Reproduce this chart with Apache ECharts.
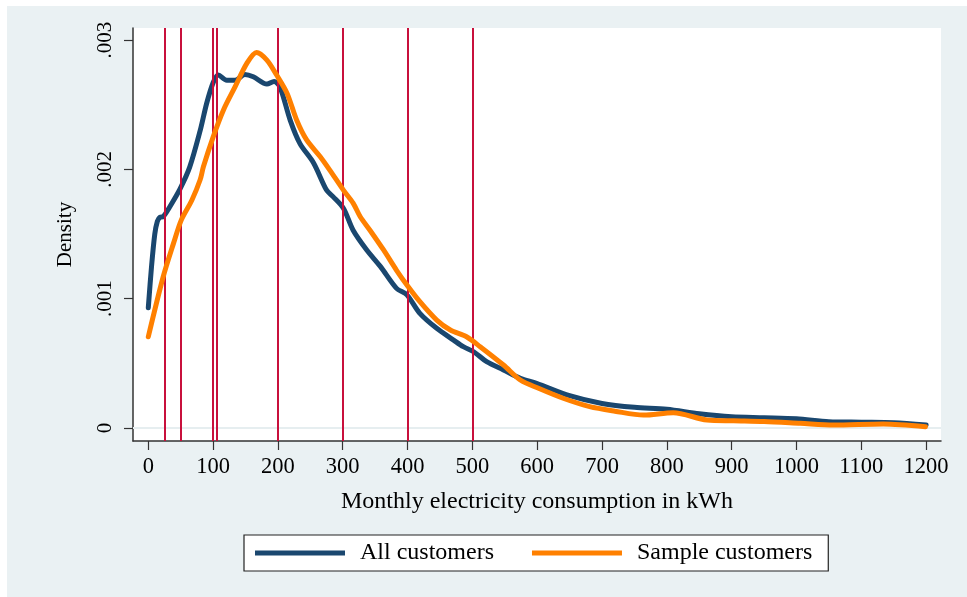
<!DOCTYPE html>
<html>
<head>
<meta charset="utf-8">
<script src="https://cdn.jsdelivr.net/npm/echarts@6/dist/echarts.min.js"></script>
<style>
html,body{margin:0;padding:0;background:#ffffff;}
#bg{position:absolute;left:7px;top:6px;width:960px;height:591px;background:#eaf1f3;}
#chart{position:absolute;left:0;top:0;width:967px;height:597px;}
</style>
</head>
<body>
<div id="bg"></div>
<div id="chart"></div>
<script>
// Data (kWh, density)
const allX = [0,5,10,14,18,23,33,49,64,80,90,100,108,121,134,149,162,183,194,203,219,234,255,275,285,301,316,337,358,383,399,419,445,471,486,502,522,548,574,599,650,700,750,800,850,900,950,1000,1050,1100,1150,1200];
const allY = [0.00093,0.00125,0.00150,0.00160,0.00163,0.001635,0.00171,0.00185,0.00202,0.00230,0.00251,0.00267,0.00273,0.00269,0.00269,0.002735,0.002717,0.00266,0.00268,0.00264,0.00238,0.00220,0.00205,0.00184,0.00179,0.00170,0.00153,0.001377,0.00125,0.00108,0.00103,0.000887,0.000771,0.00068,0.000629,0.00059,0.000513,0.000449,0.000384,0.000346,0.00025,0.00019,0.00016,0.000145,0.00011,0.000087,0.00008,0.000072,0.000049,0.000045,0.000041,0.000023];
const sampleX = [0,23,39,51,67,80,85,100,116,134,152,167,183,198,214,229,244,265,280,301,316,327,342,363,383,399,419,445,466,491,512,548,574,602,640,681,720,764,810,862,903,950,1006,1057,1134,1199];
const sampleY = [0.000706,0.00117,0.00143,0.00161,0.00176,0.00192,0.00202,0.00225,0.00246,0.00264,0.00282,0.002905,0.002846,0.00273,0.00259,0.00238,0.00223,0.00210,0.001995,0.00184,0.00174,0.001634,0.00153,0.001377,0.00122,0.001106,0.000977,0.000835,0.000758,0.000706,0.000629,0.000487,0.000371,0.000307,0.00023,0.000165,0.00013,0.0001,0.000118,0.000062,0.000056,0.00005,0.000036,0.000023,0.000031,0.00001];
const cutoffs = [25,50,100,105,200,300,400,500];
const xTicks = [0,100,200,300,400,500,600,700,800,900,1000,1100,1200];
const yTicks = [0,0.001,0.002,0.003];
const yTickLabels = ['0','.001','.002','.003'];
const seriesNames = ['All customers','Sample customers'];

const FONT = '"Liberation Serif", "Times New Roman", serif';
const chart = echarts.init(document.getElementById('chart'), null, {renderer:'canvas'});
const pair = (xs, ys) => xs.map((x,i)=>[x, ys[i]]);

chart.setOption({
  backgroundColor: 'transparent',
  animation: false,
  grid: {left:133, top:28, right:26, bottom:156, show:true, backgroundColor:'#ffffff', borderWidth:0},
  xAxis: {
    type:'value', min:-23.6, max:1223,
    name:'Monthly electricity consumption in kWh', nameLocation:'middle', nameGap:49,
    nameTextStyle:{fontFamily:FONT, fontSize:24, color:'#000'},
    axisLine:{show:true, onZero:false, lineStyle:{color:'#333', width:1.5}},
    axisTick:{show:true, length:9, customValues:xTicks, lineStyle:{color:'#333', width:1.2}},
    axisLabel:{customValues:xTicks, fontFamily:FONT, fontSize:22.5, color:'#000', margin:15,
      formatter:(v)=>String(Math.round(v))},
    splitLine:{show:false}
  },
  yAxis: {
    type:'value', min:-0.0001005, max:0.003094,
    name:'Density', nameLocation:'middle', nameGap:57,
    nameTextStyle:{fontFamily:FONT, fontSize:21, color:'#000'},
    axisLine:{show:true, onZero:false, lineStyle:{color:'#333', width:1.5}},
    axisTick:{show:true, length:9, customValues:yTicks, lineStyle:{color:'#333', width:1.2}},
    axisLabel:{customValues:yTicks, rotate:90, fontFamily:FONT, fontSize:21, color:'#000', margin:17,
      formatter:(v)=>{ const i = yTicks.findIndex(t=>Math.abs(t-v)<1e-9); return i>=0 ? yTickLabels[i] : ''; }},
    splitLine:{show:false}
  },
  legend: {
    data: seriesNames,
    left:244, top:535,
    orient:'horizontal',
    padding:[6,16,6,11],
    borderColor:'#222', borderWidth:1.2, backgroundColor:'#ffffff',
    itemWidth:90, itemHeight:5, itemGap:38,
    icon:'rect',
    textStyle:{fontFamily:FONT, fontSize:24, color:'#000', padding:[3,0,0,10]}
  },
  series: [
    {
      name:'grid', type:'line', data:[], silent:true,
      markLine:{silent:true, symbol:'none', label:{show:false}, animation:false,
        lineStyle:{color:'#e6eef0', width:2, type:'solid'},
        data: yTicks.map(v=>({yAxis:v}))}
    },
    {
      name:'cutoffs', type:'line', data:[], silent:true, z:3,
      markLine:{silent:true, symbol:'none', label:{show:false}, animation:false,
        lineStyle:{color:'#c8103c', width:2, type:'solid'},
        data: cutoffs.map(v=>({xAxis:v}))}
    },
    {
      name:seriesNames[0], type:'line', data:pair(allX, allY), smooth:0.3, showSymbol:false, z:4,
      lineStyle:{color:'#1a476f', width:5, cap:'round', join:'round'}, itemStyle:{color:'#1a476f'}
    },
    {
      name:seriesNames[1], type:'line', data:pair(sampleX, sampleY), smooth:0.3, showSymbol:false, z:5,
      lineStyle:{color:'#ff8000', width:5, cap:'round', join:'round'}, itemStyle:{color:'#ff8000'}
    }
  ]
});
</script>
</body>
</html>
